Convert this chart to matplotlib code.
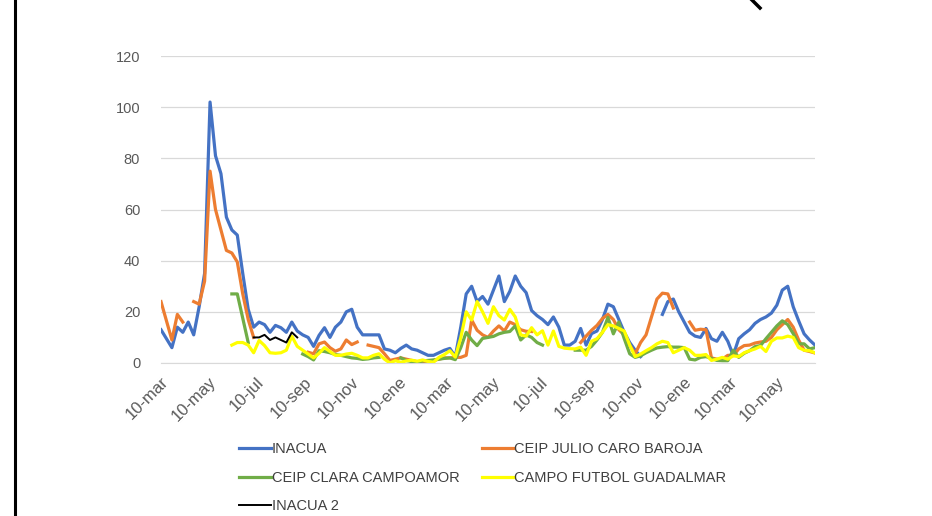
import matplotlib
matplotlib.use("Agg")
import matplotlib.pyplot as plt
import numpy as np
import datetime as dt

nan = np.nan

# weekly readings starting 10-mar-2020
inacua = [13, 9.5, 6, 14, 12, 16, 11, 22, 35, 102,
          81, 74, 57, 52, 50, 35, 21, 14, 16, 15,
          12, 14.7, 13.8, 12, 16, 12.5, 11, 10, 6.5, 10.8,
          13.8, 10, 14, 16, 20, 21, 14, 11, 11, 11,
          11, 5.5, 5, 4, 5.7, 7, 5.5, 5, 4, 3,
          3, 4, 5, 5.7, 2.5, 14, 27, 30, 24, 26,
          23, 28.5, 34, 24, 28, 34, 30, 27.5, 20.5, 18.5,
          17, 15, 18, 14, 7, 7, 8.5, 13.5, 7, 11.5,
          12.5, 17, 23, 22, 17, 12, 8, 5, 2.5, nan,
          nan, nan, 19, 24, 25, 20, 16, 12, 10.5, 10,
          13.5, 9.5, 8.5, 12, 8.5, 3, 9.5, 11.4, 13, 15.5,
          17, 18, 19.5, 22.6, 28.5, 30, 22, 16.5, 11.4, 9,
          7]
julio_caro = [24, 16.5, 9, 19, 16, nan, 24, 23, 32, 75,
              60, 52, 44, 43, 39.5, 27, 17, 10, nan, nan,
              nan, nan, nan, nan, nan, nan, nan, 4.2, 3.6, 7.5,
              8.2, 6, 4.6, 5.5, 9, 7.2, 8.2, nan, 7, 6.5,
              6, 3.6, 1, 1.5, 2, 1.5, 1, 0.5, 0.5, 0.5,
              1, 1.5, 2, 2, 2.2, 2.2, 3, 16.8, 12.8, 11,
              10, 12.5, 14.5, 12.5, 16, 15, 13, 12.4, 12.3, nan,
              nan, nan, nan, nan, nan, nan, nan, 8, 10.5, 12.8,
              14.7, 17.4, 19, 17, 13, 11, 7, 3.6, 8, 11,
              18, 25, 27.3, 27, 21.5, nan, nan, 16, 12.8, 13.2,
              13, 2, 1.5, 1.5, 3, 2.9, 5.5, 6.8, 7, 7.8,
              8.2, 8.5, 10, 13, 15, 17, 14, 9, 5, 4.5,
              3.9]
clara_campoamor = [nan, nan, nan, nan, nan, nan, nan, nan, nan, nan,
                   nan, nan, nan, 27, 27, 17.5, 8, nan, nan, nan,
                   nan, nan, nan, nan, nan, nan, 3.5, 2.5, 1.2, 4.8,
                   4.5, 4, 3.3, 3, 2.5, 2, 1.8, 1.4, 1.6, 2,
                   2.2, nan, nan, nan, 2, 1, 0.5, 0.3, 0.8, 1,
                   1.2, 1.5, 1.8, 2, 1.3, 6, 12, 9, 6.8, 9.6,
                   10, 10.4, 11.4, 12, 12.3, 14.5, 9, 11, 10, 8,
                   7, nan, nan, nan, nan, nan, 5, 5, 5, 6.5,
                   9, 12, 17.8, 11.4, 16, 9.5, 3.6, 2.2, 2.8, 4,
                   5, 5.9, 6.2, 6.4, 6.2, 6.2, 6, 1.5, 1.2, 2.2,
                   2.5, 1.8, 1, 0.9, 0.9, 5, 2.2, 3.8, 4.8, 6.4,
                   6.8, 9.5, 12, 14.5, 16.5, 15, 11.5, 7.5, 7.5, 5.5,
                   6]
guadalmar = [nan, nan, nan, nan, nan, nan, nan, nan, nan, nan,
             nan, nan, nan, 7, 8, 8, 7, 4, 8.8, 6.8,
             4, 3.8, 4, 5, 10.5, 6.5, 5, 3.5, 2, 3.8,
             6, 4.5, 3, 3, 3.5, 3.8, 3, 2, 2, 3,
             3.6, 1.5, 0, 0.9, 0.3, 0.8, 1.1, 0.7, 1.2, 0.6,
             0.3, 2.2, 3.3, 4.8, 2.3, 9.8, 20, 16.8, 24, 20,
             15.5, 22, 18.5, 16.8, 21, 18, 11, 10.5, 13.8, 11,
             12.6, 7, 12.5, 6.5, 5.8, 5.6, 5.5, 6.2, 3, 8.5,
             9.5, 12, 15, 14.5, 13.5, 12.5, 7, 2.5, 3.5, 4.8,
             6, 7.5, 8.5, 8, 4, 5, 6, 5, 3, 3,
             3.3, 1, 1.5, 2.2, 1.5, 2.8, 2.5, 4, 4.8, 5.5,
             6.5, 4.5, 8.5, 9.8, 9.8, 10.5, 10, 6, 5, 4.8,
             4]
inacua2 = [nan] * 17 + [10, 10, 11, 9, 10, 9, 8, 12, 10] + [nan] * 95

start = dt.date(2020, 3, 10)
dates = [start + dt.timedelta(days=7 * i) for i in range(len(inacua))]

tick_dates = []
y, m = 2020, 3
while (y, m) <= (2022, 5):
    tick_dates.append(dt.date(y, m, 10))
    m += 2
    if m > 12:
        m -= 12
        y += 1
mes = {1: "ene", 3: "mar", 5: "may", 7: "jul", 9: "sep", 11: "nov"}
tick_labels = ["10-" + mes[d.month] for d in tick_dates]

plt.rcParams['font.family'] = ['Liberation Sans', 'DejaVu Sans']

fig = plt.figure(figsize=(9.32, 5.16), dpi=100)
ax = fig.add_axes([161 / 932, 1 - 363 / 516, 654 / 932, 307 / 516])

lw = 2.3
l1, = ax.plot(dates, inacua, color="#4472C4", lw=lw, label="INACUA")
l2, = ax.plot(dates, julio_caro, color="#ED7D31", lw=lw, label="CEIP JULIO CARO BAROJA")
l3, = ax.plot(dates, clara_campoamor, color="#70AD47", lw=lw, label="CEIP CLARA CAMPOAMOR")
l4, = ax.plot(dates, guadalmar, color="#FFFF00", lw=lw, label="CAMPO FUTBOL GUADALMAR")
l5, = ax.plot(dates, inacua2, color="black", lw=1.4, label="INACUA 2")

ax.set_ylim(0, 120)
ax.set_yticks(range(0, 121, 20))
ax.set_xlim(dates[0], dates[-1])
ax.set_xticks(tick_dates)
ax.set_xticklabels(tick_labels, rotation=45, ha="right", rotation_mode="anchor")
ax.grid(axis="y", color="#D9D9D9", lw=0.9)
ax.set_axisbelow(True)
for s in ["top", "right", "left"]:
    ax.spines[s].set_visible(False)
ax.spines["bottom"].set_color("#D9D9D9")
ax.tick_params(axis="both", length=0, colors="#595959")
ax.tick_params(axis="y", pad=15, labelsize=10.5)
ax.tick_params(axis="x", pad=8, labelsize=12)

leg = fig.legend([l1, l3, l5, l2, l4],
                 ["INACUA", "CEIP CLARA CAMPOAMOR", "INACUA 2",
                  "CEIP JULIO CARO BAROJA", "CAMPO FUTBOL GUADALMAR"],
                 ncol=2, loc="upper left", bbox_to_anchor=(226 / 932, 1 - 429 / 516),
                 frameon=False, fontsize=10.5, handlelength=2.2, handletextpad=0.05,
                 columnspacing=1.5, labelspacing=1.0, labelcolor="#404040")

# frame edge and stray mark from the screenshot
fig.add_artist(plt.Line2D([15 / 932, 15 / 932], [0, 1], color="black", lw=2.2))
fig.add_artist(plt.Line2D([752 / 932, 760 / 932], [1, 1 - 8 / 516], color="black", lw=2.5))

fig.savefig("out.png", dpi=100)
